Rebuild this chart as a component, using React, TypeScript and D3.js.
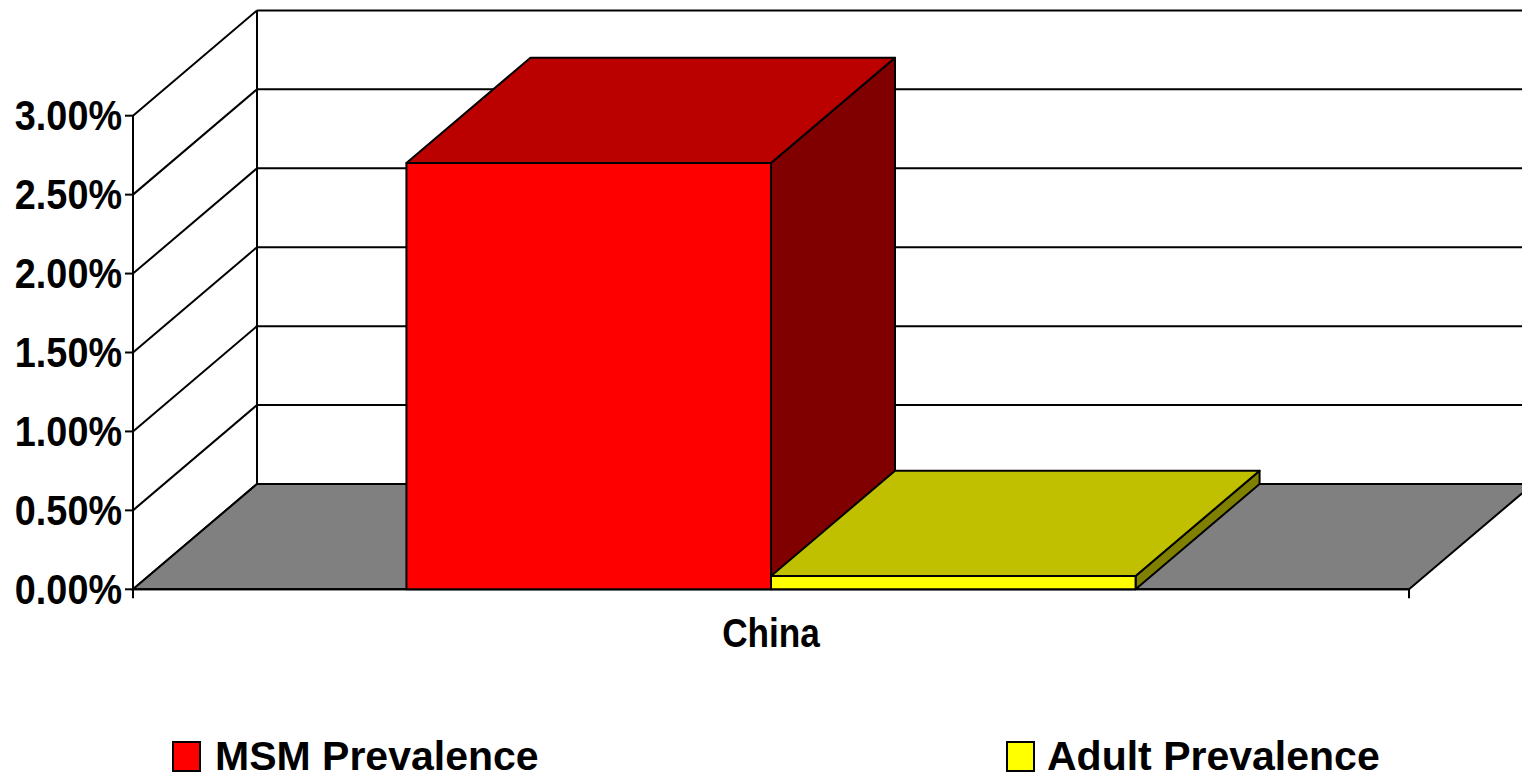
import React from "react";
import * as d3 from "d3";

const categories = ["China"];
const seriesNames = ["MSM Prevalence", "Adult Prevalence"];
const msmValues = [2.7];
const adultValues = [0.084];
const yTicks = [0, 0.5, 1, 1.5, 2, 2.5, 3];

const FRONT = ["#FF0000", "#FFFF00"];
const TOP = ["#BB0000", "#C0C000"];
const SIDE = ["#800000", "#808000"];

const W = 1522;
const H = 779;
const FONT = "'Liberation Sans', Arial, Helvetica, sans-serif";

export default function App() {
  const left = 133;
  const right = 1409;
  const y0 = 589.3;
  const yTop = 115.7;
  const dx = 124;
  const dy = -105.3;

  const y = d3.scaleLinear().domain([0, 3]).range([y0, yTop]);
  const xCat = d3.scaleBand<string>().domain(categories).range([left, right]).padding(0);
  const seriesData = [msmValues, adultValues];
  const fmt = d3.format(".2%");

  const p = (pts: [number, number][]) => "M" + pts.map((q) => q.join(",")).join("L") + "Z";

  const bars: React.ReactNode[] = [];
  categories.forEach((c, ci) => {
    const cw = xCat.bandwidth();
    const bw = cw / (seriesNames.length + 1.5);
    const gx = (xCat(c) as number) + 0.75 * bw;
    const xs = d3
      .scaleBand<string>()
      .domain(seriesNames)
      .range([gx, gx + bw * seriesNames.length])
      .padding(0);
    seriesNames.forEach((s, si) => {
      const v = seriesData[si][ci];
      const x1 = xs(s) as number;
      const x2 = x1 + xs.bandwidth();
      const yt = y(v);
      const yb = y(0);
      bars.push(
        <g key={c + s} stroke="#000" strokeWidth={2} strokeLinejoin="round">
          <path d={p([[x2, yt], [x2 + dx, yt + dy], [x2 + dx, yb + dy], [x2, yb]])} fill={SIDE[si]} />
          <path d={p([[x1, yt], [x1 + dx, yt + dy], [x2 + dx, yt + dy], [x2, yt]])} fill={TOP[si]} />
          <rect x={x1} y={yt} width={x2 - x1} height={yb - yt} fill={FRONT[si]} />
        </g>
      );
    });
  });

  const scaledText = (
    key: string,
    x: number,
    yy: number,
    txt: string,
    size: number,
    sx: number,
    anchor: "start" | "middle" | "end"
  ) => (
    <g key={key} transform={`translate(${x},${yy}) scale(${sx},1)`}>
      <text x={0} y={0} textAnchor={anchor} fontFamily={FONT} fontWeight="bold" fontSize={size} fill="#000">
        {txt}
      </text>
    </g>
  );

  const legendPos = [
    { sx: 173, tx: 215 },
    { sx: 1007, tx: 1047 },
  ];

  return (
    <svg
      width={W}
      height={H}
      viewBox={`0 0 ${W} ${H}`}
      style={{ position: "fixed", left: 0, top: 0, background: "#fff" }}
    >
      <rect x={0} y={0} width={W} height={H} fill="#fff" />
      {/* back wall gridlines */}
      <g stroke="#000" strokeWidth={2}>
        {yTicks.map((t) => (
          <line key={"bg" + t} x1={left + dx} x2={right + dx} y1={y(t) + dy} y2={y(t) + dy} />
        ))}
        {yTicks.map((t) => (
          <line key={"sg" + t} x1={left} x2={left + dx} y1={y(t)} y2={y(t) + dy} />
        ))}
        <line x1={left + dx} x2={left + dx} y1={y(3) + dy} y2={y(0) + dy} />
      </g>
      {/* floor */}
      <path
        d={p([[left, y0], [right, y0], [right + dx, y0 + dy], [left + dx, y0 + dy]])}
        fill="#808080"
        stroke="#000"
        strokeWidth={2}
      />
      {/* axes */}
      <g stroke="#000" strokeWidth={2}>
        <line x1={left} x2={left} y1={yTop} y2={y0 + 9} />
        <line x1={left} x2={right} y1={y0} y2={y0} />
        <line x1={right} x2={right} y1={y0} y2={y0 + 9} />
        {yTicks.map((t) => (
          <line key={"tk" + t} x1={left - 8} x2={left} y1={y(t)} y2={y(t)} />
        ))}
      </g>
      {bars}
      {yTicks.map((t) => scaledText("yl" + t, 122, y(t) + 14.5, fmt(t / 100), 42, 0.9, "end"))}
      {categories.map((c) =>
        scaledText("cl" + c, (xCat(c) as number) + xCat.bandwidth() / 2, 647, c, 40, 0.88, "middle")
      )}
      {seriesNames.map((s, i) => (
        <g key={"lg" + s}>
          <rect x={legendPos[i].sx} y={742} width={27} height={29} fill={FRONT[i]} stroke="#000" strokeWidth={2} />
          <text x={legendPos[i].tx} y={770} fontFamily={FONT} fontWeight="bold" fontSize={41} fill="#000">
            {s}
          </text>
        </g>
      ))}
    </svg>
  );
}
